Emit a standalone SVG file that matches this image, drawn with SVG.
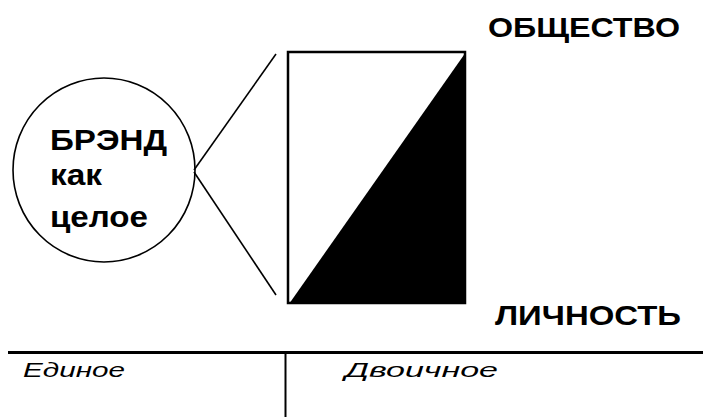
<svg xmlns="http://www.w3.org/2000/svg" width="703" height="417" viewBox="0 0 703 417">
<style>
.ln{stroke:#000;stroke-width:1.6;fill:none}
.b{font-family:"Liberation Sans",Arial,sans-serif;font-weight:bold;fill:#000}
.i{font-family:"Liberation Sans",Arial,sans-serif;font-style:italic;fill:#000}
</style>
<rect width="703" height="417" fill="#fff"/>
<g id="brand">
<ellipse cx="104" cy="170" rx="91" ry="92" class="ln"/>
<text class="b" x="50" y="150" font-size="30" textLength="117" lengthAdjust="spacingAndGlyphs">БРЭНД</text>
<text class="b" x="50" y="185" font-size="30" textLength="52" lengthAdjust="spacingAndGlyphs">как</text>
<text class="b" x="50" y="227" font-size="30" textLength="98" lengthAdjust="spacingAndGlyphs">целое</text>
</g>
<g id="connectors">
<line x1="194" y1="170" x2="276" y2="54" class="ln"/>
<line x1="194" y1="172" x2="276" y2="295" class="ln"/>
<line x1="8" y1="352.5" x2="703" y2="352.5" stroke="#000" stroke-width="3"/>
<line x1="285.5" y1="352" x2="285.5" y2="417" stroke="#000" stroke-width="2"/>
</g>
<g id="box">
<polygon points="289,304 466,52 466,304" fill="#000"/>
<rect x="288" y="52" width="177" height="251" fill="none" stroke="#000" stroke-width="2.5"/>
</g>
<g id="society">
<text class="b" x="488" y="37" font-size="27" textLength="192" lengthAdjust="spacingAndGlyphs">ОБЩЕСТВО</text>
</g>
<g id="person">
<text class="b" x="495" y="325" font-size="28" textLength="186" lengthAdjust="spacingAndGlyphs">ЛИЧНОСТЬ</text>
</g>
<g id="single">
<text class="i" x="23" y="377" font-size="21" textLength="102" lengthAdjust="spacingAndGlyphs">Единое</text>
</g>
<g id="dual">
<text class="i" x="345" y="377" font-size="21" textLength="153" lengthAdjust="spacingAndGlyphs">Двоичное</text>
</g>
</svg>
